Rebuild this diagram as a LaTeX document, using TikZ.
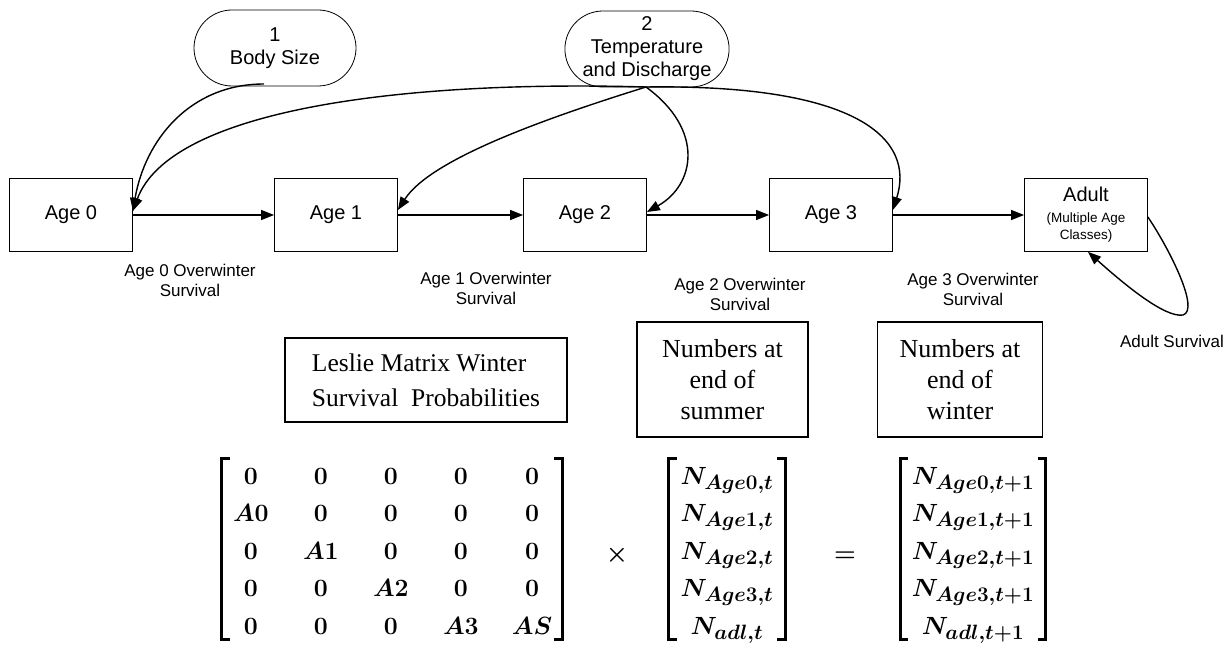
\documentclass[tikz,border=0pt]{standalone}
\usepackage{fontspec}
\setmainfont{Liberation Serif}
\setsansfont{Liberation Sans}
\usepackage{amsmath}
\DeclareMathSizes{30}{30}{21}{16}
\usetikzlibrary{shapes.misc,arrows.meta,matrix}
\newcommand\sfsize[2]{\sffamily\fontsize{#1}{#2}\selectfont}
\begin{document}
\begin{tikzpicture}[x=1pt,y=-1pt,
  stage/.style={draw, line width=0.8pt, minimum width=123pt, minimum height=73pt,
    inner sep=2pt, align=center, font=\sfsize{20}{23}},
  factor/.style={draw, line width=0.8pt, rounded rectangle, minimum width=162pt,
    minimum height=76pt, inner sep=0pt, align=center, font=\sfsize{20}{23}},
  note/.style={align=center, font=\sfsize{17}{20}},
  link/.style={line width=1.4pt, -{Triangle[length=13pt,width=10pt]}},
  caption/.style={draw, line width=1.8pt, align=center, inner sep=0pt},
  bracket/.style={line width=3pt},
  cell/.style={font=\fontsize{30}{32}\selectfont\boldmath, text height=21pt,
    text depth=1pt, inner sep=4pt, anchor=center}]
\useasboundingbox (0,0) rectangle (1232,650);

% influences
\node[factor] (size) at (275,48) {1\\Body Size};
\node[factor] (env) at (647,49) {2\\Temperature\\and Discharge};

% life stages
\node[stage] (a0) at (71,215) {Age 0};
\node[stage] (a1) at (336,215) {Age 1};
\node[stage] (a2) at (585,215) {Age 2};
\node[stage] (a3) at (831,215) {Age 3};
\node[stage] (ad) at (1086,215) {Adult\\[-2pt]{\sfsize{13.5}{16}(Multiple Age}\\[-6pt]{\sfsize{13.5}{16}Classes)}};

% transitions between stages
\draw[link] (a0.east) -- (a1.west);
\draw[link] (a1.east) -- (a2.west);
\draw[link] (a2.east) -- (a3.west);
\draw[link] (a3.east) -- (ad.west);

% effects of the covariates
\coordinate (sz) at (264,84);
\coordinate (ev) at (646,87);
\draw[link] (sz) .. controls (190,84) and (145,140) .. ([yshift=4pt]a0.east);
\draw[link] (ev) .. controls (400,80) and (170,110) .. ([yshift=4pt]a0.east);
\draw[link] (ev) .. controls (540,120) and (430,160) .. ([yshift=5pt]a1.east);
\draw[link] (ev) .. controls (705,130) and (695,185) .. ([yshift=3pt]a2.east);
\draw[link] (ev) .. controls (860,84) and (915,140) .. ([yshift=5pt]a3.east);

% adult survival loop
\coordinate (lp) at (1183,315);
\draw[link] ([yshift=-2pt]ad.east) .. controls (1170,250) and (1200,310) .. (lp)
  .. controls (1165,318) and (1125,285) .. ([xshift=2pt]ad.south);

% transition labels
\node[note] at (190,280) {Age 0 Overwinter\\Survival};
\node[note] at (486,288) {Age 1 Overwinter\\Survival};
\node[note] at (740,294) {Age 2 Overwinter\\Survival};
\node[note] at (973,289) {Age 3 Overwinter\\Survival};
\node[note] at (1172,341) {Adult Survival};

% captions of the matrix equation
\node[caption, minimum width=282pt, minimum height=84pt, align=left,
  font=\fontsize{25.5}{35}\selectfont] (lc) at (426,380)
  {Leslie Matrix Winter\\Survival\ \ Probabilities};
\node[caption, minimum width=171pt, minimum height=115pt,
  font=\fontsize{26}{31}\selectfont] (sc) at (722.5,379.5) {Numbers at\\end of\\summer};
\node[caption, minimum width=165pt, minimum height=115pt,
  font=\fontsize{26}{31}\selectfont] (wc) at (960,379.5) {Numbers at\\end of\\winter};

% Leslie matrix
\matrix (L) [matrix of math nodes, nodes={cell, minimum width=46pt},
  column sep=24pt, row sep=7.5pt, inner xsep=6pt, inner ysep=0pt] at (392,549) {
  0 & 0 & 0 & 0 & 0 \\
  A0 & 0 & 0 & 0 & 0 \\
  0 & A1 & 0 & 0 & 0 \\
  0 & 0 & A2 & 0 & 0 \\
  0 & 0 & 0 & A3 & AS \\
};
\node[cell] (times) at (617,551) {$\unboldmath\times$};

% abundances at the end of summer
\matrix (S) [matrix of math nodes, nodes={cell, minimum width=108pt, inner xsep=1pt},
  row sep=7.5pt, inner xsep=4pt, inner ysep=0pt] at (727,549) {
  N_{Age0,t} \\
  N_{Age1,t} \\
  N_{Age2,t} \\
  N_{Age3,t} \\
  N_{adl,t} \\
};
\node[cell] (eq) at (845,551) {$=$};

% abundances at the end of winter
\matrix (W) [matrix of math nodes, nodes={cell, minimum width=137pt, inner xsep=1pt},
  row sep=7.5pt, inner xsep=4pt, inner ysep=0pt] at (973,549) {
  N_{Age0,t+1} \\
  N_{Age1,t+1} \\
  N_{Age2,t+1} \\
  N_{Age3,t+1} \\
  N_{adl,t+1} \\
};

% square brackets
\foreach \m in {L,S,W}{
  \draw[bracket] ([xshift=8pt]\m.north west) -- (\m.north west) -- (\m.south west) -- ([xshift=8pt]\m.south west);
  \draw[bracket] ([xshift=-8pt]\m.north east) -- (\m.north east) -- (\m.south east) -- ([xshift=-8pt]\m.south east);
}
\end{tikzpicture}
\end{document}
